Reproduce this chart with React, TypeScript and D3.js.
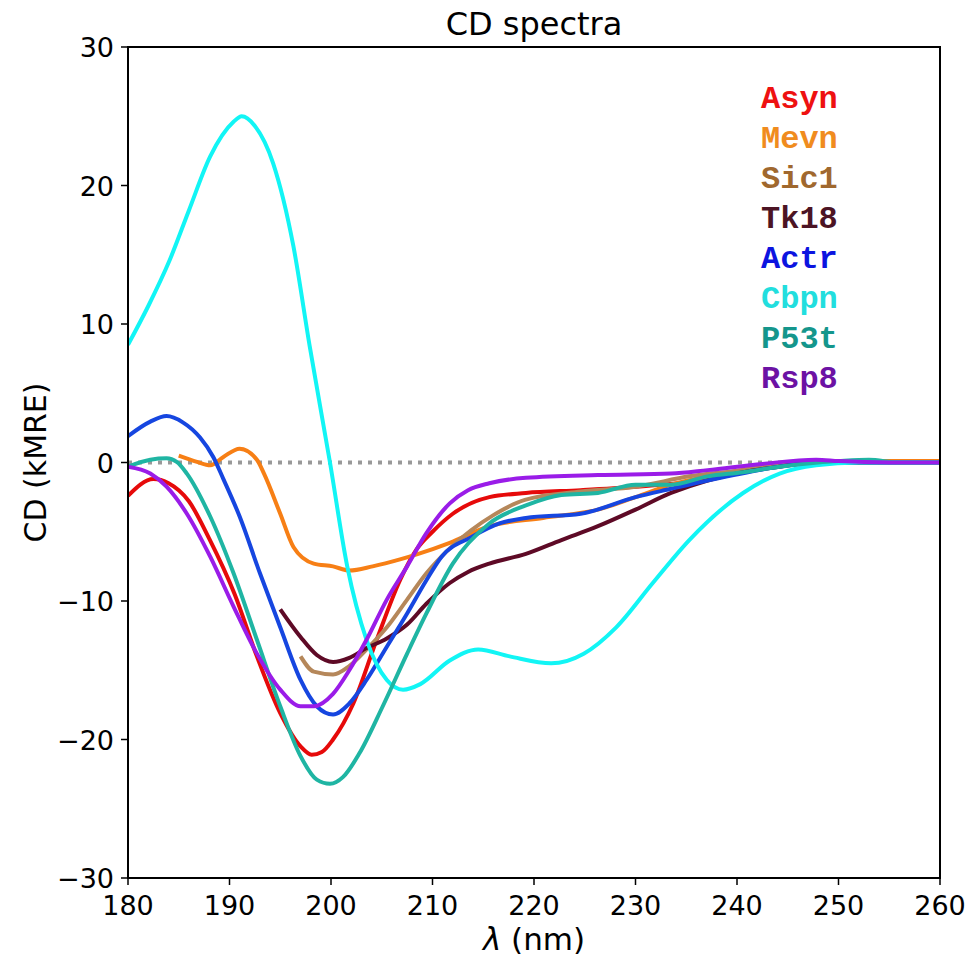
import React from "react";
import * as d3 from "d3";

// CD spectra (wavelength in nm, CD in kMRE)
const asynX = [180, 182.5, 184, 186, 188, 190.5, 192.7, 195, 197, 198.1, 199.1, 200.2, 202.2, 204.5, 206.8, 208.4, 210, 212, 215.6, 219.2, 224.6, 230, 235.3, 240.6, 245, 250, 255, 260];
const asynY = [-2.4, -1.2, -1.5, -2.8, -5.5, -9.5, -14, -18.1, -20.5, -21.1, -20.9, -20, -17.4, -12.8, -8.5, -6.3, -5.0, -3.7, -2.5, -2.2, -2.0, -1.75, -1.4, -0.7, -0.1, 0, 0, 0];

const mevnX = [185, 186.8, 188.1, 189.4, 191, 192.7, 193.4, 195, 196.3, 198.3, 200.2, 201.8, 204.1, 206.8, 208.6, 211.7, 215.6, 220.9, 226.3, 230, 233.5, 237.1, 242.5, 247, 252, 260];
const mevnY = [0.5, 0.05, -0.2, 0.4, 1.0, 0.2, -0.8, -3.7, -6.1, -7.3, -7.5, -7.8, -7.5, -7.0, -6.6, -5.8, -4.6, -4.0, -3.4, -2.5, -1.6, -1.0, -0.3, 0.1, 0.1, 0.1];

const sic1X = [197, 198.3, 200.2, 201.8, 203.5, 205.5, 207.5, 209.4, 211.7, 213.8, 216, 219.1, 224.6, 230, 235.3, 240.6, 245, 250, 255, 260];
const sic1Y = [-14.0, -15.1, -15.3, -14.7, -13.5, -11.9, -9.9, -8.0, -6.2, -4.9, -3.8, -2.7, -2.1, -1.75, -1.0, -0.55, -0.1, 0, 0, 0];

const tk18X = [195, 197, 198.6, 200.2, 201.8, 203.5, 205.5, 207.5, 209.4, 211.7, 213.5, 215.6, 219.2, 222.7, 226.3, 230, 233.5, 237.1, 240.6, 244.2, 248, 255, 260];
const tk18Y = [-10.6, -12.6, -13.9, -14.4, -14.1, -13.4, -12.7, -11.7, -10.2, -8.7, -7.9, -7.3, -6.6, -5.6, -4.6, -3.4, -2.2, -1.3, -0.7, -0.3, 0, 0, 0];

const actrX = [180, 182.2, 183.8, 185.4, 187.1, 188.4, 189.4, 191, 193, 195, 197, 198.6, 200.2, 201.8, 203.5, 205.5, 207.5, 209.4, 210.9, 213.8, 216.6, 219.2, 224.6, 230, 233.5, 237.1, 242.5, 246.2, 250, 255, 260];
const actrY = [1.9, 2.95, 3.35, 2.9, 1.8, 0.4, -1.2, -3.9, -8.0, -11.9, -15.7, -17.6, -18.2, -17.4, -15.7, -13.3, -10.9, -8.5, -6.8, -5.4, -4.4, -4.0, -3.7, -2.5, -1.9, -1.3, -0.5, -0.1, 0, 0, 0];

const cbpnX = [180, 182, 184.1, 186, 188.1, 190.4, 191.2, 192.5, 194.3, 196.3, 197.9, 199.9, 201.6, 203.5, 205.5, 207.1, 208.8, 211.7, 214.5, 217.6, 221.7, 224.9, 228.1, 231.7, 235.3, 240.6, 244.2, 247.8, 252, 256, 260];
const cbpnY = [8.5, 11.3, 14.6, 18.2, 22.1, 24.6, 25.0, 24.3, 21.6, 15.6, 8.4, 0, -7.5, -12.8, -15.7, -16.4, -16.0, -14.3, -13.5, -14.0, -14.5, -13.8, -11.9, -8.7, -5.6, -2.2, -0.8, -0.2, 0, 0, 0];

const p53tX = [180, 182.2, 183.8, 184.8, 185.8, 188.1, 190.4, 192.7, 195, 197, 198.6, 199.9, 201.2, 202.8, 205.1, 207.5, 209.4, 212, 215.6, 219.2, 222.7, 226.3, 230, 233.5, 237.1, 240.6, 244.2, 248, 250, 253, 256, 260];
const p53tY = [-0.3, 0.2, 0.3, 0.05, -0.8, -3.9, -8.0, -12.8, -17.6, -21.2, -22.9, -23.2, -22.7, -21.0, -17.6, -13.8, -10.9, -7.3, -4.4, -3.1, -2.35, -2.2, -1.6, -1.6, -1.0, -0.7, -0.3, 0, 0.1, 0.2, 0, 0];

const rsp8X = [180, 182.2, 183.8, 185.8, 188.1, 190.4, 192.7, 195, 197, 198.3, 200.2, 201.8, 203.5, 205.5, 207.5, 209.4, 211.7, 213.5, 215.6, 219.2, 226.3, 233.5, 237.1, 242.5, 247.8, 250, 255, 260];
const rsp8Y = [-0.3, -0.8, -1.75, -3.7, -6.8, -10.4, -13.8, -16.4, -17.6, -17.6, -16.7, -15.0, -12.8, -9.9, -7.5, -5.1, -2.95, -2.0, -1.5, -1.1, -0.9, -0.8, -0.55, -0.1, 0.2, 0.1, 0, 0];

const names = ["Asyn", "Mevn", "Sic1", "Tk18", "Actr", "Cbpn", "P53t", "Rsp8"];
const xs = [asynX, mevnX, sic1X, tk18X, actrX, cbpnX, p53tX, rsp8X];
const ys = [asynY, mevnY, sic1Y, tk18Y, actrY, cbpnY, p53tY, rsp8Y];
const lineColors = ["#e60a0a", "#f77f15", "#b5875a", "#5e0a26", "#1646e0", "#12f5f5", "#1fb5a3", "#9a1ce8"];
const textColors = ["#ee1111", "#f08c1e", "#a0682e", "#4c1424", "#0c14e0", "#22dede", "#14968c", "#6c12a4"];

const xTicks = [180, 190, 200, 210, 220, 230, 240, 250, 260];
const yTicks = [-30, -20, -10, 0, 10, 20, 30];

const W = 969;
const H = 961;
const left = 128, right = 940, top = 47, bottom = 878;

export default function App() {
  const x = d3.scaleLinear().domain([180, 260]).range([left, right]);
  const y = d3.scaleLinear().domain([-30, 30]).range([bottom, top]);

  const line = d3
    .line<[number, number]>()
    .x((d) => x(d[0]))
    .y((d) => y(d[1]))
    .curve(d3.curveMonotoneX);

  const font = "'DejaVu Sans', sans-serif";

  return (
    <svg width={W} height={H} style={{ position: "absolute", left: 0, top: 0, background: "#fff" }}>
      <defs>
        <clipPath id="plot">
          <rect x={left} y={top} width={right - left} height={bottom - top} />
        </clipPath>
      </defs>

      {/* zero line */}
      <line
        x1={left}
        x2={right}
        y1={y(0)}
        y2={y(0)}
        stroke="#999"
        strokeWidth={4}
        strokeDasharray="4 6"
      />

      <g clipPath="url(#plot)">
        {names.map((n, i) => (
          <path
            key={n}
            d={line(xs[i].map((v, j) => [v, ys[i][j]] as [number, number])) || ""}
            fill="none"
            stroke={lineColors[i]}
            strokeWidth={4}
            strokeLinejoin="round"
          />
        ))}
      </g>

      {/* frame */}
      <rect x={left} y={top} width={right - left} height={bottom - top} fill="none" stroke="#000" strokeWidth={2} />

      {/* x axis */}
      {xTicks.map((t) => (
        <g key={t}>
          <line x1={x(t)} x2={x(t)} y1={bottom} y2={bottom + 7} stroke="#000" strokeWidth={1.5} />
          <text x={x(t)} y={bottom + 37} textAnchor="middle" fontFamily={font} fontSize={27}>
            {t}
          </text>
        </g>
      ))}
      {/* y axis */}
      {yTicks.map((t) => (
        <g key={t}>
          <line x1={left - 7} x2={left} y1={y(t)} y2={y(t)} stroke="#000" strokeWidth={1.5} />
          <text x={left - 14} y={y(t) + 10} textAnchor="end" fontFamily={font} fontSize={27}>
            {t < 0 ? "\u2212" + Math.abs(t) : t}
          </text>
        </g>
      ))}

      <text x={(left + right) / 2} y={35} textAnchor="middle" fontFamily={font} fontSize={32}>
        CD spectra
      </text>
      <text x={(left + right) / 2} y={950} textAnchor="middle" fontFamily={font} fontSize={31}>
        <tspan fontStyle="italic">λ</tspan> (nm)
      </text>
      <text
        transform={`translate(46,${(top + bottom) / 2}) rotate(-90)`}
        textAnchor="middle"
        fontFamily={font}
        fontSize={30}
      >
        CD (kMRE)
      </text>

      {/* legend */}
      {names.map((n, i) => (
        <text
          key={n}
          x={761}
          y={108 + i * 40}
          fontFamily="'Liberation Mono', 'Courier New', monospace"
          fontWeight="bold"
          fontSize={32}
          fill={textColors[i]}
        >
          {n}
        </text>
      ))}
    </svg>
  );
}
